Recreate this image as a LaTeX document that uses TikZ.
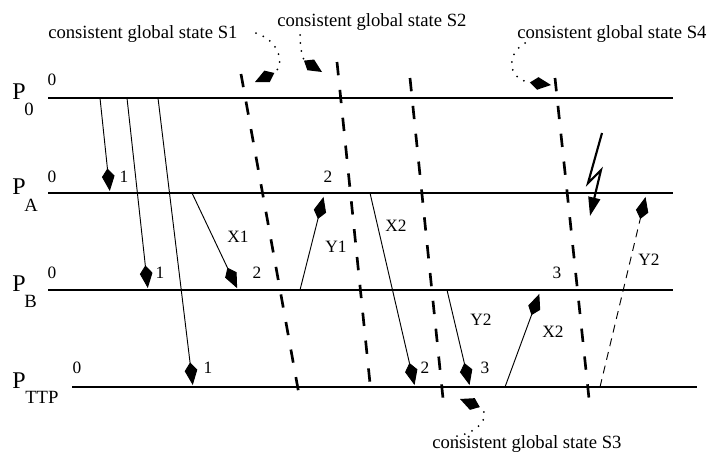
\documentclass[tikz,border=0pt]{standalone}
\usepackage{fontspec}
\setmainfont{Liberation Serif}
\usetikzlibrary{arrows.meta}
\begin{document}
\begin{tikzpicture}[x=0.75pt,y=-0.75pt,
  proc/.style={line width=1.1pt},
  msg/.style={line width=0.7pt,shorten >=1.5pt,-{Kite[length=17pt,width=9.5pt,inset=6pt]}},
  msgdash/.style={msg,dash pattern=on 6pt off 4.5pt},
  cutline/.style={line width=2pt,dash pattern=on 10pt off 11pt},
  pointer/.style={line width=1.5pt,dash pattern=on 0pt off 6pt,line cap=round,-{Kite[length=16pt,width=9.5pt,inset=6pt]}},
  bolt/.style={line width=1.6pt,line join=miter,-{Triangle[length=14pt,width=9pt]}},
  lbl/.style={font=\fontsize{13}{15}\selectfont,inner sep=0pt},
  captxt/.style={font=\fontsize{14}{16}\selectfont,inner sep=0pt,anchor=base west},
  pname/.style={font=\fontsize{18}{20}\selectfont,inner sep=0pt,anchor=base west},
  psub/.style={font=\fontsize{14}{16}\selectfont,inner sep=0pt,anchor=base west}]
\useasboundingbox (0,0) rectangle (714,461);

% process lines
\coordinate (p0s) at (48,98);  \coordinate (p0e) at (673,98);
\coordinate (pas) at (48,193); \coordinate (pae) at (673,193);
\coordinate (pbs) at (48,290); \coordinate (pbe) at (673,290);
\coordinate (pts) at (72,387); \coordinate (pte) at (697,387);
\draw[proc] (p0s) -- (p0e);
\draw[proc] (pas) -- (pae);
\draw[proc] (pbs) -- (pbe);
\draw[proc] (pts) -- (pte);

% process names
\node[pname] (n0) at (12,99) {P};   \node[psub] (s0) at (24,115) {0};
\node[pname] (na) at (12,194) {P};  \node[psub] (sa) at (24,211) {A};
\node[pname] (nb) at (12,291) {P};  \node[psub] (sb) at (24,307) {B};
\node[pname] (nt) at (12,388) {P};  \node[psub] (st) at (25,403) {TTP};

% initial state labels
\node[lbl] (z0) at (52,80) {0};
\node[lbl] (za) at (52,177) {0};
\node[lbl] (zb) at (52,273) {0};
\node[lbl] (zt) at (77,368) {0};

% messages
\coordinate (m1s) at (100,98);  \coordinate (m1e) at (110,193);
\coordinate (m2s) at (127,98);  \coordinate (m2e) at (148,290);
\coordinate (m3s) at (158,98);  \coordinate (m3e) at (193,387);
\coordinate (x1s) at (192,193); \coordinate (x1e) at (238,290);
\coordinate (y1s) at (300,290); \coordinate (y1e) at (324,195);
\coordinate (x2s) at (370,193); \coordinate (x2e) at (415,387);
\coordinate (y2s) at (447,290); \coordinate (y2e) at (470,387);
\coordinate (x3s) at (505,387); \coordinate (x3e) at (540,292);
\coordinate (y3s) at (600,387); \coordinate (y3e) at (646,195);
\draw[msg] (m1s) -- (m1e);
\draw[msg] (m2s) -- (m2e);
\draw[msg] (m3s) -- (m3e);
\draw[msg] (x1s) -- (x1e);
\draw[msg] (y1s) -- (y1e);
\draw[msg] (x2s) -- (x2e);
\draw[msg] (y2s) -- (y2e);
\draw[msg] (x3s) -- (x3e);
\draw[msgdash] (y3s) -- (y3e);

% event numbers
\node[lbl] (e1a) at (124,177) {1};
\node[lbl] (e1b) at (160,273) {1};
\node[lbl] (e1t) at (208,368) {1};
\node[lbl] (e2b) at (257,273) {2};
\node[lbl] (e2a) at (328,177) {2};
\node[lbl] (e2t) at (425,368) {2};
\node[lbl] (e3t) at (485,368) {3};
\node[lbl] (e3b) at (557,273) {3};

% message names
\node[lbl] (lx1) at (238,237) {X1};
\node[lbl] (ly1) at (336,247) {Y1};
\node[lbl] (lx2) at (396,226) {X2};
\node[lbl] (ly2) at (481,320) {Y2};
\node[lbl] (lx3) at (553,332) {X2};
\node[lbl] (ly3) at (649,260) {Y2};

% cuts
\coordinate (c1t) at (241,74);  \coordinate (c1b) at (300,400);
\coordinate (c2t) at (337,62);  \coordinate (c2b) at (371,393);
\coordinate (c3t) at (410,78);  \coordinate (c3b) at (444,408);
\coordinate (c4t) at (555,78);  \coordinate (c4b) at (590,408);
\draw[cutline] (c1t) -- (c1b);
\draw[cutline] (c2t) -- (c2b);
\draw[cutline] (c3t) -- (c3b);
\draw[cutline] (c4t) -- (c4b);

% captions
\node[captxt] (t1) at (48,38) {consistent global state S1};
\node[captxt] (t2) at (277,26) {consistent global state S2};
\node[captxt] (t4) at (517,38) {consistent global state S4};
\node[captxt] (t3) at (432,448) {consistent global state S3};

% pointers from captions to cuts
\coordinate (q1s) at (256,33); \coordinate (q1e) at (255,82);
\coordinate (q2s) at (300,35); \coordinate (q2e) at (322,72);
\coordinate (q4s) at (525,43); \coordinate (q4e) at (551,85);
\coordinate (q3s) at (457,436); \coordinate (q3e) at (460,399);
\draw[pointer] (q1s) .. controls (282,42) and (285,68) .. (q1e);
\draw[pointer] (q2s) .. controls (300,50) and (303,60) .. (q2e);
\draw[pointer] (q4s) .. controls (505,55) and (508,80) .. (q4e);
\draw[pointer] (q3s) .. controls (482,432) and (492,412) .. (q3e);

% failure (lightning)
\coordinate (b1) at (602,133); \coordinate (b2) at (588,183);
\coordinate (b3) at (601,170); \coordinate (b4) at (590,216);
\draw[bolt] (b1) -- (b2) -- (b3) -- (b4);
\end{tikzpicture}
\end{document}
